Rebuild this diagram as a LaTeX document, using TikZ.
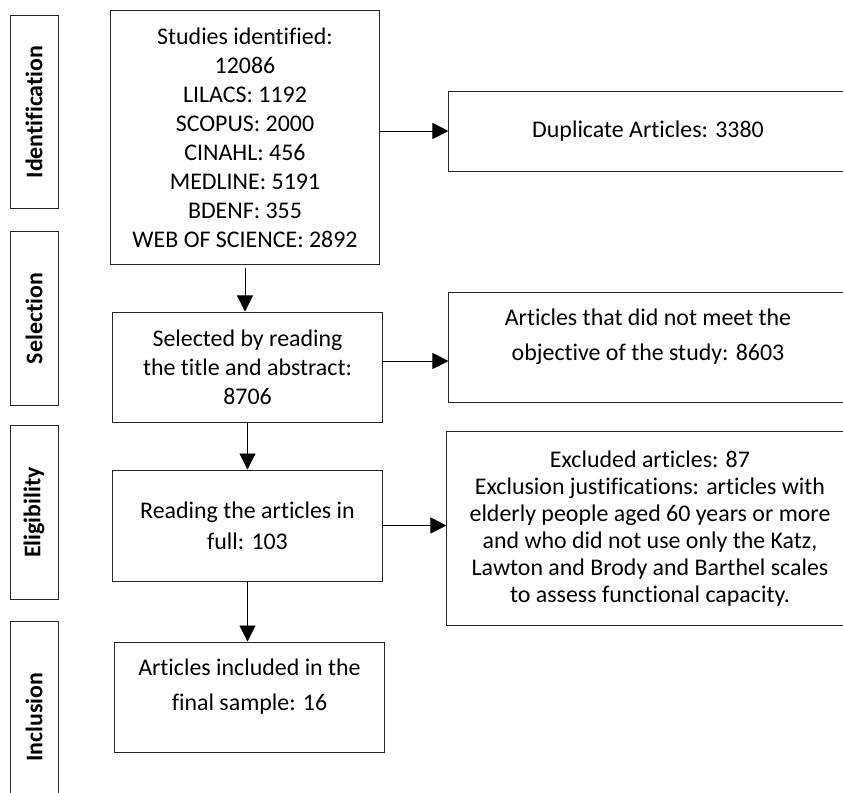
\documentclass[tikz,border=0pt]{standalone}
\usepackage{fontspec}
\setmainfont{Carlito}[Ligatures=NoCommon]
\usetikzlibrary{arrows.meta}

\begin{document}
\begin{tikzpicture}[
    x=0.025cm, y=-0.025cm,
    box/.style={
        rectangle,
        draw=black!85,
        line width=0.7pt,
        fill=white,
        font=\fontsize{17}{20.6}\selectfont,
        align=center,
        inner sep=0pt
    },
    phase/.style={
        box,
        rotate=90,
        font=\fontsize{17}{20.6}\selectfont\bfseries,
        minimum height=1.2cm
    },
    arr/.style={
        -{Triangle[length=0.4cm, width=0.4cm]},
        line width=0.7pt
    }
]
\useasboundingbox (0,0) rectangle (843,792);

% phases on the left
\node[phase, minimum width=4.8cm] (ident) at (34,112) {Identification};
\node[phase, minimum width=4.325cm] (select) at (34,318.5) {Selection};
\node[phase, minimum width=4.325cm] (elig) at (34,512.5) {Eligibility};
\node[phase, minimum width=4.75cm] (incl) at (34,717) {Inclusion};

% main column
\node[box, minimum width=6.7cm, minimum height=6.325cm] (idbox) at (245,137.5) {
    Studies identified:\\
    12086\\
    LILACS: 1192\\
    SCOPUS: 2000\\
    CINAHL: 456\\
    MEDLINE: 5191\\
    BDENF: 355\\
    WEB OF SCIENCE: 2892
};
\node[box, minimum width=6.725cm, minimum height=2.75cm] (selbox) at (247.5,367) {
    Selected by reading\\
    the title and abstract:\\
    8706
};
\node[box, minimum width=6.725cm, minimum height=2.775cm, font=\fontsize{17}{22}\selectfont] (fullbox) at (247.5,525.5) {
    Reading the articles in\\
    full: 103
};
\node[box, minimum width=6.725cm, minimum height=2.75cm, font=\fontsize{17}{24.5}\selectfont] (inclbox) at (249.5,697) {
    Articles included in the\\
    final sample: 16\\[-0.25cm]\mbox{}
};

% excluded column
\node[box, minimum width=9.95cm, minimum height=2cm] (dupbox) at (648,131) {Duplicate Articles: 3380};
\node[box, minimum width=9.95cm, minimum height=2.75cm, font=\fontsize{17}{24.5}\selectfont] (objbox) at (648,347) {
    Articles that did not meet the\\
    objective of the study: 8603\\[-0.25cm]\mbox{}
};
\node[box, minimum width=10.15cm, minimum height=4.825cm, font=\fontsize{17}{19.3}\selectfont] (exclbox) at (650,528.5) {
    Excluded articles: 87\\
    Exclusion justifications: articles with\\
    elderly people aged 60 years or more\\
    and who did not use only the Katz,\\
    Lawton and Brody and Barthel scales\\
    to assess functional capacity.
};

% arrows
\coordinate (selout) at ([yshift=0.15cm]selbox.east);
\draw[arr] ([yshift=-0.075cm]idbox.south) -- (idbox.south |- selbox.north);
\draw[arr] (selbox.south) -- (selbox.south |- fullbox.north);
\draw[arr] (fullbox.south) -- (fullbox.south |- inclbox.north);
\draw[arr] (idbox.east |- dupbox.west) -- (dupbox.west);
\draw[arr] (selout) -- (selout -| objbox.west);
\draw[arr] (fullbox.east) -- (fullbox.east -| exclbox.west);

\end{tikzpicture}
\end{document}
